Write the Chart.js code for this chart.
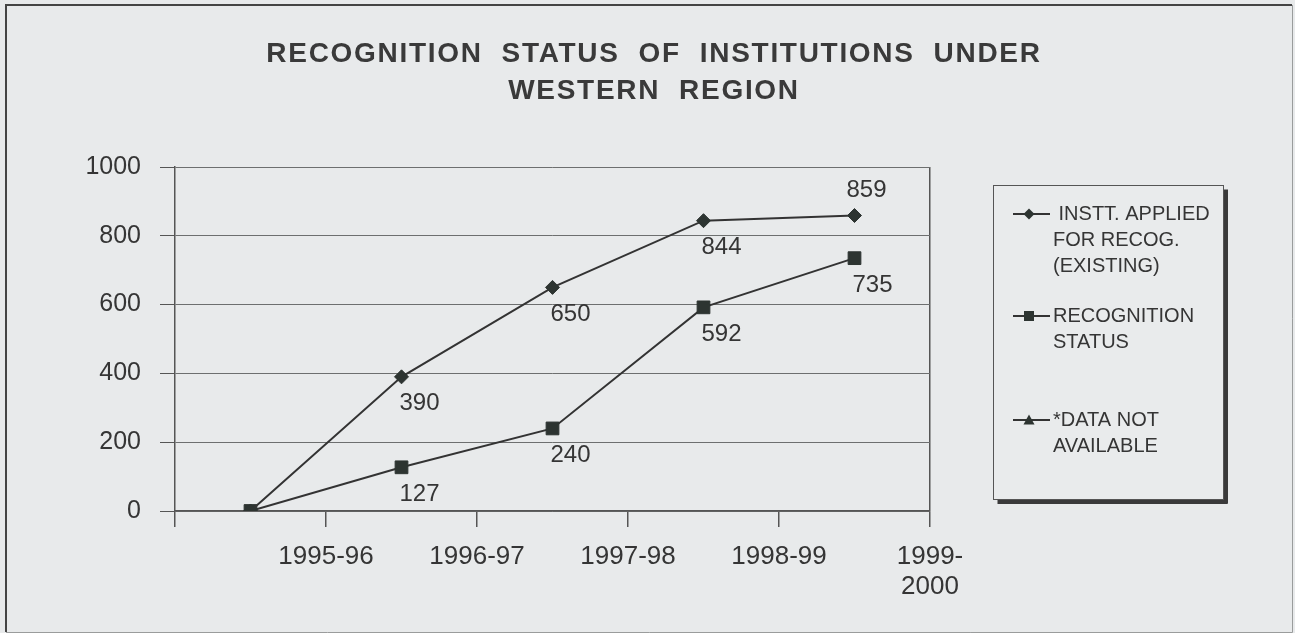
<!DOCTYPE html>
<html><head><meta charset="utf-8">
<script src="https://cdn.jsdelivr.net/npm/chart.js@4.4.1/dist/chart.umd.min.js"></script>
<style>html,body{margin:0;padding:0;background:#e8eaeb;}#wrap{width:1295px;height:633px;}</style>
</head><body><div id="wrap"><canvas id="c" width="1295" height="633"></canvas></div>
<script>
// ---- data ----
const titleLines = ['RECOGNITION  STATUS  OF  INSTITUTIONS  UNDER', 'WESTERN  REGION'];
const categories = ['1995-96', '1996-97', '1997-98', '1998-99', ['1999-', '2000']];
const yTicks = [0, 200, 400, 600, 800, 1000];
const appliedExisting = [0, 390, 650, 844, 859];
const recognitionStatus = [0, 127, 240, 592, 735];
const dataNotAvailable = [];
const legendLabels = [[' INSTT. APPLIED', 'FOR RECOG.', '(EXISTING)'], ['RECOGNITION', 'STATUS'], ['*DATA NOT', 'AVAILABLE']];

const FONT = "'Liberation Sans', Arial, sans-serif";
const TXT = '#353535';
const LINE = '#333';
const MARK = '#2d3431';

const toPts = arr => arr.map((v, i) => ({x: i + 0.5, y: v}));

function drawMarker(ctx, style, x, y, s) {
  ctx.save();
  ctx.fillStyle = MARK;
  ctx.beginPath();
  if (style === 'rectRot') {
    ctx.moveTo(x, y - s); ctx.lineTo(x + s, y); ctx.lineTo(x, y + s); ctx.lineTo(x - s, y); ctx.closePath();
  } else if (style === 'rect') {
    ctx.rect(x - s, y - s, 2 * s, 2 * s);
  } else {
    ctx.moveTo(x, y - s); ctx.lineTo(x + s, y + s * 0.8); ctx.lineTo(x - s, y + s * 0.8); ctx.closePath();
  }
  ctx.fill();
  ctx.restore();
}

const decor = {
  id: 'decor',
  beforeDraw(chart) {
    const ctx = chart.ctx;
    ctx.save();
    ctx.fillStyle = '#e8eaeb';
    ctx.fillRect(0, 0, chart.width, chart.height);
    ctx.strokeStyle = '#444';
    ctx.lineWidth = 2;
    ctx.beginPath();
    ctx.moveTo(6, 632); ctx.lineTo(6, 5); ctx.lineTo(1292, 5);
    ctx.stroke();
    ctx.strokeStyle = '#9a9c9c';
    ctx.lineWidth = 1;
    ctx.beginPath();
    ctx.moveTo(1292.5, 5); ctx.lineTo(1292.5, 632.5); ctx.lineTo(6, 632.5);
    ctx.stroke();
    ctx.restore();
  },
  afterDraw(chart) {
    const ctx = chart.ctx;
    ctx.save();
    // title
    ctx.fillStyle = '#3a3a3a';
    ctx.font = 'bold 28px ' + FONT;
    ctx.letterSpacing = '1.7px';
    ctx.textAlign = 'center';
    ctx.textBaseline = 'alphabetic';
    ctx.fillText(titleLines[0], 654, 62);
    ctx.fillText(titleLines[1], 654, 99);
    ctx.letterSpacing = '0px';

    // data labels
    ctx.font = '24px ' + FONT;
    ctx.fillStyle = TXT;
    ctx.textAlign = 'center';
    ctx.textBaseline = 'middle';
    chart.data.datasets.forEach((ds, di) => {
      const meta = chart.getDatasetMeta(di);
      meta.data.forEach((pt, i) => {
        const v = ds.data[i].y;
        if (!v) return;
        const above = (ds.labelAbove || []).includes(i);
        ctx.fillText(String(v), pt.x + (above ? 12 : 18), pt.y + (above ? -25 : 27));
      });
    });

    // legend box
    const L = 993.5, T = 185.5, R = 1223.5, B = 499.5;
    ctx.fillStyle = '#3a3a3a';
    ctx.fillRect(R + 0.5, T + 4, 4, B - T);
    ctx.fillRect(L + 4, B + 0.5, R - L, 4);
    ctx.fillStyle = '#e9ebec';
    ctx.fillRect(L, T, R - L, B - T);
    ctx.strokeStyle = '#555';
    ctx.lineWidth = 1;
    ctx.strokeRect(L, T, R - L, B - T);

    const itemY = [214, 316, 420];
    const styles = ['rectRot', 'rect', 'triangle'];
    const sizes = [5.5, 5, 5.5];
    ctx.font = '20px ' + FONT;
    ctx.textAlign = 'left';
    ctx.textBaseline = 'middle';
    legendLabels.forEach((lines, k) => {
      const y = itemY[k];
      ctx.strokeStyle = LINE;
      ctx.lineWidth = 2;
      ctx.beginPath(); ctx.moveTo(1013, y); ctx.lineTo(1050, y); ctx.stroke();
      drawMarker(ctx, styles[k], 1029, y, sizes[k]);
      ctx.fillStyle = TXT;
      lines.forEach((t, j) => ctx.fillText(t, 1053, y + j * 26));
    });
    ctx.restore();
  }
};

new Chart(document.getElementById('c'), {
  type: 'line',
  data: {
    datasets: [
      {label: legendLabels[0].join(' '), data: toPts(appliedExisting), pointStyle: 'rectRot', pointRadius: 7,
       borderColor: LINE, backgroundColor: MARK, pointBorderColor: MARK, borderWidth: 2, pointBorderWidth: 1, labelAbove: [4]},
      {label: legendLabels[1].join(' '), data: toPts(recognitionStatus), pointStyle: 'rect', pointRadius: 9,
       borderColor: LINE, backgroundColor: MARK, pointBorderColor: MARK, borderWidth: 2, pointBorderWidth: 1},
      {label: legendLabels[2].join(' '), data: toPts(dataNotAvailable), pointStyle: 'triangle', pointRadius: 7,
       borderColor: LINE, backgroundColor: MARK, borderWidth: 2}
    ]
  },
  options: {
    responsive: false,
    animation: false,
    layout: {padding: {left: 0, top: 167, right: 365, bottom: 22}},
    plugins: {legend: {display: false}, tooltip: {enabled: false}, title: {display: false}},
    scales: {
      x: {
        type: 'linear', min: 0, max: categories.length,
        ticks: {stepSize: 1, autoSkip: false, maxRotation: 0, padding: 15, color: TXT,
                font: {size: 26, family: FONT, lineHeight: 1.15},
                callback: v => (v >= 1 && v <= categories.length) ? categories[v - 1] : ''},
        grid: {color: c => (c.tick && c.tick.value === categories.length) ? '#555' : 'rgba(0,0,0,0)',
               tickColor: '#555', tickLength: 16, lineWidth: 1.5, drawOnChartArea: true},
        border: {display: true, color: '#555', width: 1.5},
        afterFit: s => { s.height = 100; }
      },
      y: {
        min: 0, max: 1000,
        afterBuildTicks: s => { s.ticks = yTicks.map(v => ({value: v})); },
        ticks: {padding: 19, color: TXT, font: {size: 25, family: FONT}, callback: v => String(v)},
        grid: {color: '#6d6f6f', tickColor: '#555', tickLength: 15, lineWidth: 1},
        border: {display: true, color: '#555', width: 1.5},
        afterFit: s => { s.width = 175; }
      }
    }
  },
  plugins: [decor]
});
</script>
</body></html>
